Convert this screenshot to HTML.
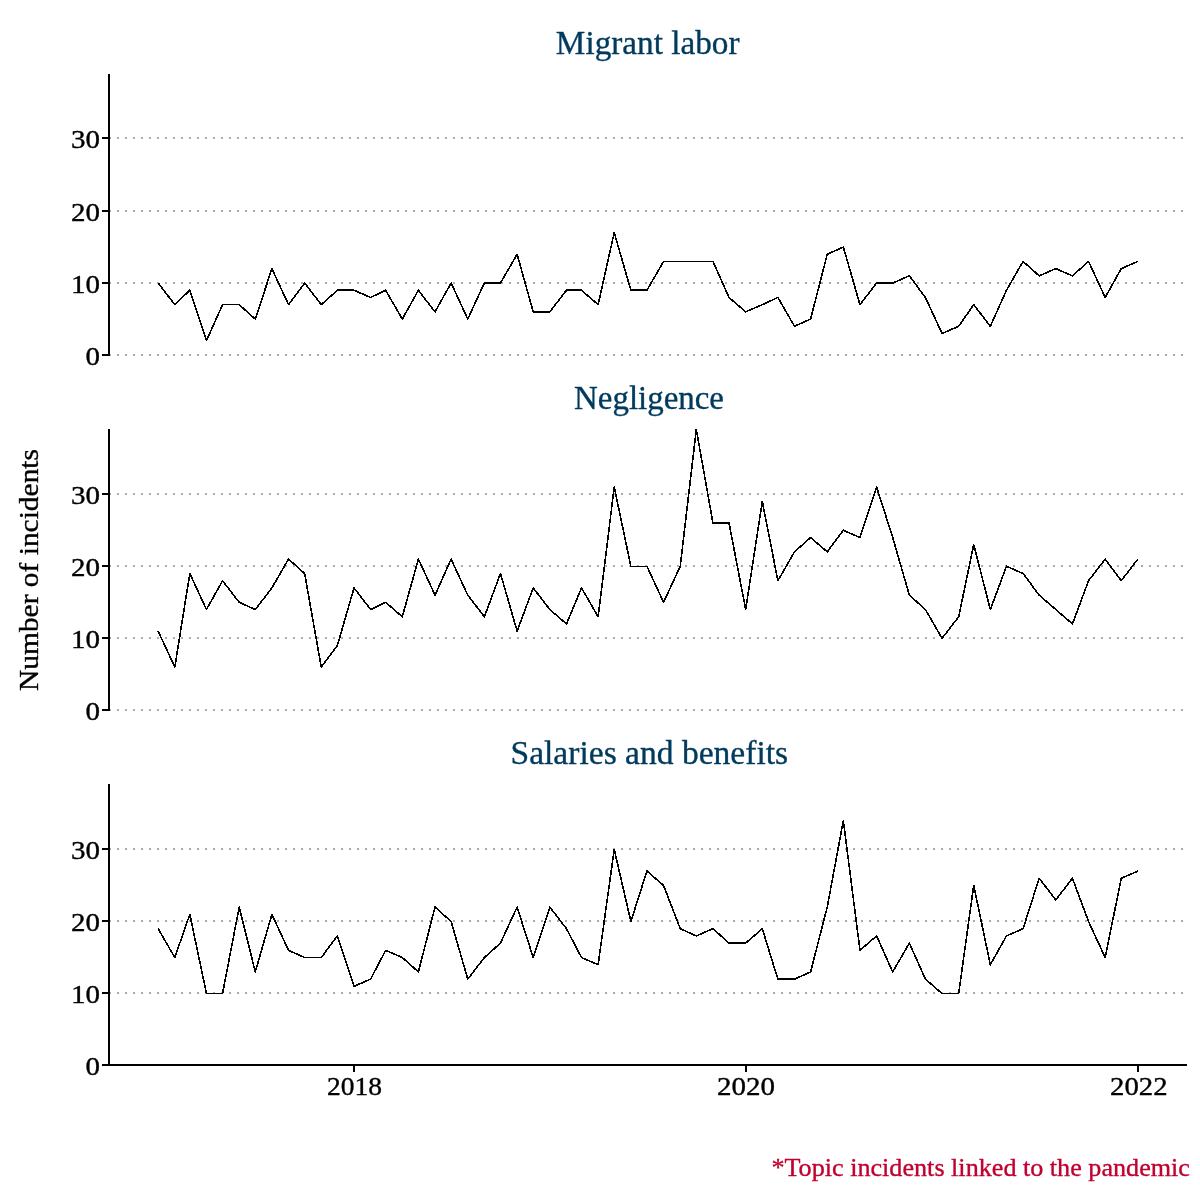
<!DOCTYPE html>
<html><head><meta charset="utf-8"><title>Incidents</title>
<style>
html,body{margin:0;padding:0;background:#fff;}
svg{display:block;will-change:transform;}
text{font-family:"Liberation Serif",serif;stroke-linejoin:round;}
</style></head><body>
<svg width="1200" height="1200" viewBox="0 0 1200 1200">
<rect width="1200" height="1200" fill="#fff"/>
<text x="647.7" y="53.5" text-anchor="middle" font-size="32.7" textLength="183.7" lengthAdjust="spacingAndGlyphs" fill="#003a5d" stroke="#003a5d" stroke-width="0.35">Migrant labor</text>
<line x1="109" y1="355" x2="1187" y2="355" stroke="#aaaaaa" stroke-width="2" stroke-dasharray="2 6"/>
<line x1="109" y1="283" x2="1187" y2="283" stroke="#aaaaaa" stroke-width="2" stroke-dasharray="2 6"/>
<line x1="109" y1="211" x2="1187" y2="211" stroke="#aaaaaa" stroke-width="2" stroke-dasharray="2 6"/>
<line x1="109" y1="138" x2="1187" y2="138" stroke="#aaaaaa" stroke-width="2" stroke-dasharray="2 6"/>
<polyline points="158.16,283.05 174.79,304.66 189.82,290.25 206.45,340.69 222.55,304.66 239.18,304.66 255.27,319.07 271.91,268.64 288.54,304.66 304.64,283.05 321.27,304.66 337.37,290.25 354.00,290.25 370.63,297.46 385.66,290.25 402.29,319.07 418.39,290.25 435.02,311.87 451.12,283.05 467.75,319.07 484.38,283.05 500.48,283.05 517.11,254.23 533.21,311.87 549.84,311.87 566.47,290.25 581.50,290.25 598.13,304.66 614.23,232.61 630.86,290.25 646.96,290.25 663.59,261.43 680.22,261.43 696.32,261.43 712.95,261.43 729.05,297.46 745.68,311.87 762.31,304.66 777.87,297.46 794.51,326.28 810.60,319.07 827.24,254.23 843.33,247.02 859.97,304.66 876.60,283.05 892.70,283.05 909.33,275.84 925.43,297.46 942.06,333.48 958.69,326.28 973.72,304.66 990.35,326.28 1006.45,290.25 1023.08,261.43 1039.17,275.84 1055.81,268.64 1072.44,275.84 1088.54,261.43 1105.17,297.46 1121.27,268.64 1137.90,261.43" fill="none" stroke="#000" stroke-width="1.6" stroke-linejoin="round" shape-rendering="crispEdges"/>
<line x1="109" y1="74" x2="109" y2="356" stroke="#000" stroke-width="2"/>
<line x1="102" y1="355.00" x2="109" y2="355.00" stroke="#000" stroke-width="2"/>
<text x="100.0" y="365.00" text-anchor="end" font-size="24.5" textLength="14.5" lengthAdjust="spacingAndGlyphs" fill="#000" stroke="#000" stroke-width="0.35">0</text>
<line x1="102" y1="283.00" x2="109" y2="283.00" stroke="#000" stroke-width="2"/>
<text x="100.0" y="293.00" text-anchor="end" font-size="24.5" textLength="29.0" lengthAdjust="spacingAndGlyphs" fill="#000" stroke="#000" stroke-width="0.35">10</text>
<line x1="102" y1="211.00" x2="109" y2="211.00" stroke="#000" stroke-width="2"/>
<text x="100.0" y="221.00" text-anchor="end" font-size="24.5" textLength="29.0" lengthAdjust="spacingAndGlyphs" fill="#000" stroke="#000" stroke-width="0.35">20</text>
<line x1="102" y1="138.00" x2="109" y2="138.00" stroke="#000" stroke-width="2"/>
<text x="100.0" y="148.00" text-anchor="end" font-size="24.5" textLength="29.0" lengthAdjust="spacingAndGlyphs" fill="#000" stroke="#000" stroke-width="0.35">30</text>
<text x="649.0" y="408.5" text-anchor="middle" font-size="32.7" textLength="149.8" lengthAdjust="spacingAndGlyphs" fill="#003a5d" stroke="#003a5d" stroke-width="0.35">Negligence</text>
<line x1="109" y1="710" x2="1187" y2="710" stroke="#aaaaaa" stroke-width="2" stroke-dasharray="2 6"/>
<line x1="109" y1="638" x2="1187" y2="638" stroke="#aaaaaa" stroke-width="2" stroke-dasharray="2 6"/>
<line x1="109" y1="566" x2="1187" y2="566" stroke="#aaaaaa" stroke-width="2" stroke-dasharray="2 6"/>
<line x1="109" y1="494" x2="1187" y2="494" stroke="#aaaaaa" stroke-width="2" stroke-dasharray="2 6"/>
<polyline points="158.16,631.14 174.79,667.17 189.82,573.50 206.45,609.53 222.55,580.71 239.18,602.32 255.27,609.53 271.91,587.91 288.54,559.09 304.64,573.50 321.27,667.17 337.37,645.55 354.00,587.91 370.63,609.53 385.66,602.32 402.29,616.73 418.39,559.09 435.02,595.12 451.12,559.09 467.75,595.12 484.38,616.73 500.48,573.50 517.11,631.14 533.21,587.91 549.84,609.53 566.47,623.94 581.50,587.91 598.13,616.73 614.23,487.04 630.86,566.30 646.96,566.30 663.59,602.32 680.22,566.30 696.32,429.40 712.95,523.07 729.05,523.07 745.68,609.53 762.31,501.45 777.87,580.71 794.51,551.89 810.60,537.48 827.24,551.89 843.33,530.27 859.97,537.48 876.60,487.04 892.70,537.48 909.33,595.12 925.43,609.53 942.06,638.35 958.69,616.73 973.72,544.68 990.35,609.53 1006.45,566.30 1023.08,573.50 1039.17,595.12 1055.81,609.53 1072.44,623.94 1088.54,580.71 1105.17,559.09 1121.27,580.71 1137.90,559.09" fill="none" stroke="#000" stroke-width="1.6" stroke-linejoin="round" shape-rendering="crispEdges"/>
<line x1="109" y1="429" x2="109" y2="711" stroke="#000" stroke-width="2"/>
<line x1="102" y1="710.00" x2="109" y2="710.00" stroke="#000" stroke-width="2"/>
<text x="100.0" y="720.00" text-anchor="end" font-size="24.5" textLength="14.5" lengthAdjust="spacingAndGlyphs" fill="#000" stroke="#000" stroke-width="0.35">0</text>
<line x1="102" y1="638.00" x2="109" y2="638.00" stroke="#000" stroke-width="2"/>
<text x="100.0" y="648.00" text-anchor="end" font-size="24.5" textLength="29.0" lengthAdjust="spacingAndGlyphs" fill="#000" stroke="#000" stroke-width="0.35">10</text>
<line x1="102" y1="566.00" x2="109" y2="566.00" stroke="#000" stroke-width="2"/>
<text x="100.0" y="576.00" text-anchor="end" font-size="24.5" textLength="29.0" lengthAdjust="spacingAndGlyphs" fill="#000" stroke="#000" stroke-width="0.35">20</text>
<line x1="102" y1="494.00" x2="109" y2="494.00" stroke="#000" stroke-width="2"/>
<text x="100.0" y="504.00" text-anchor="end" font-size="24.5" textLength="29.0" lengthAdjust="spacingAndGlyphs" fill="#000" stroke="#000" stroke-width="0.35">30</text>
<text x="649.3" y="763.5" text-anchor="middle" font-size="32.7" textLength="277.6" lengthAdjust="spacingAndGlyphs" fill="#003a5d" stroke="#003a5d" stroke-width="0.35">Salaries and benefits</text>
<line x1="109" y1="1065" x2="1187" y2="1065" stroke="#aaaaaa" stroke-width="2" stroke-dasharray="2 6"/>
<line x1="109" y1="993" x2="1187" y2="993" stroke="#aaaaaa" stroke-width="2" stroke-dasharray="2 6"/>
<line x1="109" y1="921" x2="1187" y2="921" stroke="#aaaaaa" stroke-width="2" stroke-dasharray="2 6"/>
<line x1="109" y1="849" x2="1187" y2="849" stroke="#aaaaaa" stroke-width="2" stroke-dasharray="2 6"/>
<polyline points="158.16,928.70 174.79,957.52 189.82,914.29 206.45,993.55 222.55,993.55 239.18,907.09 255.27,971.93 271.91,914.29 288.54,950.32 304.64,957.52 321.27,957.52 337.37,935.91 354.00,986.34 370.63,979.14 385.66,950.32 402.29,957.52 418.39,971.93 435.02,907.09 451.12,921.50 467.75,979.14 484.38,957.52 500.48,943.11 517.11,907.09 533.21,957.52 549.84,907.09 566.47,928.70 581.50,957.52 598.13,964.73 614.23,849.45 630.86,921.50 646.96,871.06 663.59,885.47 680.22,928.70 696.32,935.91 712.95,928.70 729.05,943.11 745.68,943.11 762.31,928.70 777.87,979.14 794.51,979.14 810.60,971.93 827.24,907.09 843.33,820.63 859.97,950.32 876.60,935.91 892.70,971.93 909.33,943.11 925.43,979.14 942.06,993.55 958.69,993.55 973.72,885.47 990.35,964.73 1006.45,935.91 1023.08,928.70 1039.17,878.27 1055.81,899.88 1072.44,878.27 1088.54,921.50 1105.17,957.52 1121.27,878.27 1137.90,871.06" fill="none" stroke="#000" stroke-width="1.6" stroke-linejoin="round" shape-rendering="crispEdges"/>
<line x1="109" y1="784" x2="109" y2="1066" stroke="#000" stroke-width="2"/>
<line x1="102" y1="1065.00" x2="109" y2="1065.00" stroke="#000" stroke-width="2"/>
<text x="100.0" y="1075.00" text-anchor="end" font-size="24.5" textLength="14.5" lengthAdjust="spacingAndGlyphs" fill="#000" stroke="#000" stroke-width="0.35">0</text>
<line x1="102" y1="993.00" x2="109" y2="993.00" stroke="#000" stroke-width="2"/>
<text x="100.0" y="1003.00" text-anchor="end" font-size="24.5" textLength="29.0" lengthAdjust="spacingAndGlyphs" fill="#000" stroke="#000" stroke-width="0.35">10</text>
<line x1="102" y1="921.00" x2="109" y2="921.00" stroke="#000" stroke-width="2"/>
<text x="100.0" y="931.00" text-anchor="end" font-size="24.5" textLength="29.0" lengthAdjust="spacingAndGlyphs" fill="#000" stroke="#000" stroke-width="0.35">20</text>
<line x1="102" y1="849.00" x2="109" y2="849.00" stroke="#000" stroke-width="2"/>
<text x="100.0" y="859.00" text-anchor="end" font-size="24.5" textLength="29.0" lengthAdjust="spacingAndGlyphs" fill="#000" stroke="#000" stroke-width="0.35">30</text>
<line x1="108" y1="1065" x2="1187" y2="1065" stroke="#000" stroke-width="2"/>
<line x1="354.00" y1="1065" x2="354.00" y2="1072" stroke="#000" stroke-width="2"/>
<text x="354.5" y="1095.3" text-anchor="middle" font-size="25.0" textLength="55" lengthAdjust="spacingAndGlyphs" fill="#000" stroke="#000" stroke-width="0.35">2018</text>
<line x1="746.00" y1="1065" x2="746.00" y2="1072" stroke="#000" stroke-width="2"/>
<text x="746.1" y="1095.3" text-anchor="middle" font-size="25.0" textLength="58" lengthAdjust="spacingAndGlyphs" fill="#000" stroke="#000" stroke-width="0.35">2020</text>
<line x1="1138.00" y1="1065" x2="1138.00" y2="1072" stroke="#000" stroke-width="2"/>
<text x="1138.75" y="1095.3" text-anchor="middle" font-size="25.0" textLength="57.5" lengthAdjust="spacingAndGlyphs" fill="#000" stroke="#000" stroke-width="0.35">2022</text>
<text transform="translate(37.5,570) rotate(-90)" x="0" y="0" text-anchor="middle" font-size="28" textLength="242" lengthAdjust="spacingAndGlyphs" fill="#000" stroke="#000" stroke-width="0.35">Number of incidents</text>
<text x="1190" y="1176" text-anchor="end" font-size="25.5" textLength="418.6" lengthAdjust="spacingAndGlyphs" fill="#c0002f" stroke="#c0002f" stroke-width="0.35">*Topic incidents linked to the pandemic</text>
</svg>
</body></html>
